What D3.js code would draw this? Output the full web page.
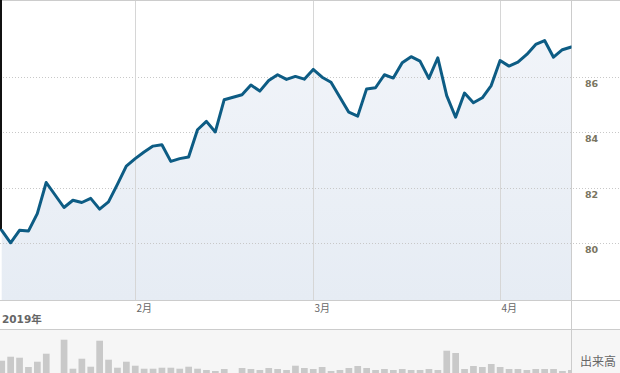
<!DOCTYPE html>
<html>
<head>
<meta charset="utf-8">
<script src="https://cdn.jsdelivr.net/npm/d3@7"></script>
<style>
  html, body { margin: 0; padding: 0; background: #fff; }
  svg { display: block; }
</style>
</head>
<body>
<svg id="chart" width="620" height="373"></svg>
<script>
// Weekday axis (US holidays 1/21 and 2/18 have no data)
const days = [
  "1/11","1/14","1/15","1/16","1/17","1/18","1/21","1/22","1/23","1/24","1/25","1/28","1/29","1/30","1/31",
  "2/1","2/4","2/5","2/6","2/7","2/8","2/11","2/12","2/13","2/14","2/15","2/18","2/19","2/20","2/21","2/22","2/25","2/26","2/27","2/28",
  "3/1","3/4","3/5","3/6","3/7","3/8","3/11","3/12","3/13","3/14","3/15","3/18","3/19","3/20","3/21","3/22","3/25","3/26","3/27","3/28","3/29",
  "4/1","4/2","4/3","4/4","4/5","4/8","4/9","4/10","4/11"
];
const closes = [
  80.51, 80.06, 80.51, 80.48, 81.11, 82.23, null, 81.33, 81.59, 81.51, 81.66, 81.27, 81.53, 82.16, 82.82,
  83.09, 83.33, 83.54, 83.59, 82.99, 83.09, 83.15, 84.13, 84.43, 84.05, 85.21, null, 85.39, 85.74, 85.52, 85.90, 86.11, 85.94, 86.05, 85.95,
  86.30, 86.02, 85.84, 85.30, 84.76, 84.62, 85.60, 85.64, 86.11, 85.99, 86.54, 86.76, 86.60, 85.98, 86.72, 85.36, 84.58, 85.45, 85.10, 85.28, 85.72,
  86.62, 86.42, 86.56, 86.84, 87.20, 87.34, 86.74, 87.01, 87.11
];
const volumes = [
  133, 173, 163, 70, 123, 203, null, 343, 53, 153, 73, 333, 143, 63, 123,
  83, 53, 53, 63, 63, 53, 73, 53, 40, 30, 50, null, 60, 50, 40, 60, 50, 40, 83, 60,
  50, 70, 30, 40, 60, 80, 60, 40, 50, 40, 50, 40, 40, 50, 40, 233, 210, 50, 80, 70, 100,
  70, 50, 50, 40, 50, 50, 50, 30, 40
];
const priceTicks = [80, 82, 84, 86];
const monthTicks = ["2/1", "3/1", "4/1"];
const monthLabels = ["2月", "3月", "4月"];
const yearLabel = "2019年";
const volumeLabel = "出来高";

const svg = d3.select("#chart");
const W = 620, H = 373;
const plotRight = 571.5, plotBottom = 300.5, stripBottom = 329.5;

const x = d3.scalePoint().domain(days).range([1.7, 571.3]);
const y = d3.scaleLinear().domain([78, 88.8]).range([300, 0]);
const yv = d3.scaleLinear().domain([0, 450]).range([374, 329]);

const data = days.map((d, i) => ({ d, c: closes[i], v: volumes[i] }));
const priced = data.filter(p => p.c != null);

// gradient
const defs = svg.append("defs");
const grad = defs.append("linearGradient").attr("id", "fillGrad")
  .attr("x1", 0).attr("y1", 0).attr("x2", 0).attr("y2", 1);
grad.append("stop").attr("offset", "0%").attr("stop-color", "#f1f4f9");
grad.append("stop").attr("offset", "100%").attr("stop-color", "#e6ecf4");
defs.append("clipPath").attr("id", "plotClip")
  .append("rect").attr("x", 0).attr("y", 0).attr("width", plotRight).attr("height", 300);

// volume panel background
svg.append("rect").attr("x", 0).attr("y", stripBottom).attr("width", W).attr("height", H - stripBottom)
  .attr("fill", "#f6f6f6");

// area
svg.append("path").datum(priced)
  .attr("clip-path", "url(#plotClip)")
  .attr("fill", "url(#fillGrad)")
  .attr("d", d3.area().x(p => x(p.d)).y0(300).y1(p => y(p.c)));

// horizontal dotted gridlines
svg.append("g").selectAll("line").data(priceTicks).join("line")
  .attr("x1", 0).attr("x2", W)
  .attr("y1", t => Math.round(y(t)) - 0.5).attr("y2", t => Math.round(y(t)) - 0.5)
  .attr("stroke", "#c8c8c8").attr("stroke-width", 1).attr("stroke-dasharray", "1,2");

// month gridlines
svg.append("g").selectAll("line").data(monthTicks).join("line")
  .attr("x1", m => Math.round(x(m)) + 0.5).attr("x2", m => Math.round(x(m)) + 0.5)
  .attr("y1", 0).attr("y2", 300)
  .attr("stroke", "#d6d6d6").attr("stroke-width", 1);

// borders
svg.append("line").attr("x1", 0).attr("x2", W).attr("y1", 0.5).attr("y2", 0.5).attr("stroke", "#cccccc");
svg.append("line").attr("x1", 0).attr("x2", W).attr("y1", plotBottom).attr("y2", plotBottom).attr("stroke", "#cccccc");
svg.append("line").attr("x1", 0).attr("x2", W).attr("y1", stripBottom).attr("y2", stripBottom).attr("stroke", "#cccccc");
svg.append("line").attr("x1", plotRight).attr("x2", plotRight).attr("y1", 0).attr("y2", H).attr("stroke", "#cccccc");

// volume bars
svg.append("g").selectAll("rect").data(data.filter(p => p.v != null)).join("rect")
  .attr("x", p => x(p.d) - 3.3).attr("width", 6.7)
  .attr("y", p => yv(p.v)).attr("height", p => yv(0) - yv(p.v))
  .attr("fill", "#c9c9c9");
// mask any bar part beyond the right border
svg.append("rect").attr("x", plotRight + 0.5).attr("y", stripBottom + 0.5).attr("width", W - plotRight).attr("height", H)
  .attr("fill", "#f6f6f6");

// left edge dark stroke down to first price
svg.append("line").attr("x1", 1).attr("x2", 1).attr("y1", 0).attr("y2", y(priced[0].c))
  .attr("stroke", "#111").attr("stroke-width", 2);

// price line
svg.append("path").datum(priced)
  .attr("clip-path", "url(#plotClip)")
  .attr("fill", "none").attr("stroke", "#0d5c84").attr("stroke-width", 3)
  .attr("stroke-linejoin", "round").attr("stroke-linecap", "round")
  .attr("d", d3.line().x(p => x(p.d)).y(p => y(p.c)));

// y labels
svg.append("g").selectAll("text").data(priceTicks).join("text")
  .attr("x", 585).attr("y", t => Math.round(y(t)) + 9)
  .attr("font-family", "DejaVu Sans, sans-serif").attr("font-weight", "bold").attr("font-size", 9.5)
  .attr("fill", "#7a7561").text(t => t);

// month labels
svg.append("g").selectAll("text").data(monthTicks).join("text")
  .attr("x", m => Math.round(x(m)) + 1.5).attr("y", 311.5)
  .attr("font-family", "'Noto Sans CJK JP', sans-serif").attr("font-size", 10)
  .attr("fill", "#666").text((m, i) => monthLabels[i]);

svg.append("text").attr("x", 2).attr("y", 322.5)
  .attr("font-family", "'DejaVu Sans', 'Noto Sans CJK JP', sans-serif").attr("font-weight", "bold").attr("font-size", 10.5)
  .attr("fill", "#666").text(yearLabel);

svg.append("text").attr("x", 580).attr("y", 366)
  .attr("font-family", "'Noto Sans CJK JP', sans-serif").attr("font-size", 12)
  .attr("fill", "#666").text(volumeLabel);
</script>
</body>
</html>
